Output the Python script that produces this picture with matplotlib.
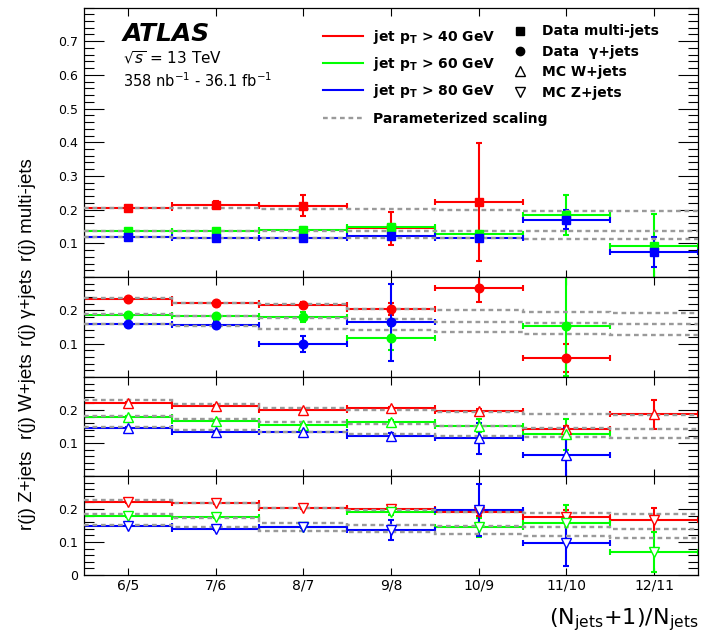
import numpy as np
import matplotlib
matplotlib.use("Agg")
import matplotlib.pyplot as plt
from matplotlib.ticker import MultipleLocator, FixedLocator
from matplotlib.lines import Line2D

plt.rcParams['font.family'] = ['DejaVu Sans']
plt.rcParams['mathtext.fontset'] = 'dejavusans'

# ---------------- data ----------------
categories = ['6/5', '7/6', '8/7', '9/8', '10/9', '11/10', '12/11']
nan = np.nan

# Panel 1: Data multi-jets
multi_40 = [0.206, 0.215, 0.212, 0.144, 0.223, nan, nan]
multi_40_err = [0.004, 0.011, 0.030, 0.050, 0.175, nan, nan]
multi_60 = [0.137, 0.137, 0.141, 0.148, 0.127, 0.184, 0.091]
multi_60_err = [0.005, 0.005, 0.006, 0.008, 0.010, 0.060, 0.095]
multi_80 = [0.118, 0.115, 0.115, 0.121, 0.115, 0.170, 0.075]
multi_80_err = [0.005, 0.006, 0.006, 0.007, 0.008, 0.028, 0.044]
multi_fit_40 = [0.206, 0.205, 0.203, 0.201, 0.198, 0.195, 0.195]
multi_fit_60 = [0.137, 0.137, 0.137, 0.137, 0.137, 0.136, 0.136]
multi_fit_80 = [0.118, 0.117, 0.117, 0.116, 0.115, 0.113, 0.113]

# Panel 2: Data gamma+jets
gam_40 = [0.235, 0.222, 0.217, 0.204, 0.266, 0.057, nan]
gam_40_err = [0.003, 0.004, 0.007, 0.018, 0.040, 0.041, nan]
gam_60 = [0.187, 0.184, 0.179, 0.117, nan, 0.153, nan]
gam_60_err = [0.003, 0.005, 0.015, 0.035, nan, 0.150, nan]
gam_80 = [0.160, 0.157, 0.098, 0.164, nan, nan, nan]
gam_80_err = [0.003, 0.010, 0.024, 0.115, nan, nan, nan]
gam_fit_40 = [0.236, 0.223, 0.219, 0.204, 0.200, 0.195, 0.193]
gam_fit_60 = [0.188, 0.183, 0.177, 0.173, 0.166, 0.162, 0.160]
gam_fit_80 = [0.160, 0.153, 0.145, 0.140, 0.135, 0.130, 0.126]

# Panel 3: MC W+jets
w_40 = [0.222, 0.212, 0.200, 0.207, 0.196, 0.142, 0.187]
w_40_err = [0.003, 0.003, 0.003, 0.003, 0.008, 0.010, 0.044]
w_60 = [0.179, 0.168, 0.155, 0.163, 0.153, 0.126, nan]
w_60_err = [0.003, 0.003, 0.003, 0.008, 0.020, 0.048, nan]
w_80 = [0.146, 0.134, 0.132, 0.120, 0.114, 0.065, nan]
w_80_err = [0.003, 0.003, 0.003, 0.010, 0.048, 0.080, nan]
w_fit_40 = [0.229, 0.217, 0.205, 0.201, 0.195, 0.188, 0.185]
w_fit_60 = [0.181, 0.172, 0.165, 0.158, 0.152, 0.144, 0.141]
w_fit_80 = [0.150, 0.139, 0.134, 0.127, 0.121, 0.119, 0.116]

# Panel 4: MC Z+jets
z_40 = [0.222, 0.217, 0.202, 0.199, 0.190, 0.177, 0.167]
z_40_err = [0.003, 0.003, 0.003, 0.008, 0.010, 0.020, 0.037]
z_60 = [0.179, 0.175, 0.146, 0.191, 0.144, 0.157, 0.069]
z_60_err = [0.003, 0.003, 0.003, 0.010, 0.030, 0.055, 0.060]
z_80 = [0.150, 0.138, 0.146, 0.136, 0.197, 0.096, nan]
z_80_err = [0.003, 0.003, 0.003, 0.030, 0.080, 0.070, nan]
z_fit_40 = [0.227, 0.217, 0.202, 0.197, 0.192, 0.187, 0.184]
z_fit_60 = [0.184, 0.172, 0.159, 0.152, 0.148, 0.146, 0.139]
z_fit_80 = [0.152, 0.144, 0.134, 0.129, 0.124, 0.118, 0.113]

series_labels = [r'jet p$_\mathbf{T}$ > 40 GeV', r'jet p$_\mathbf{T}$ > 60 GeV',
                 r'jet p$_\mathbf{T}$ > 80 GeV']
sample_labels = ['Data multi-jets', 'Data  γ+jets', 'MC W+jets', 'MC Z+jets']
ylabels = ['r(j) multi-jets', 'r(j) γ+jets', 'r(j) W+jets', 'r(j) Z+jets']

# --------------- style ----------------
colors = ['#ff0000', '#00ff00', '#0000ff']
gray = '#9a9a9a'
markers = ['s', 'o', '^', 'v']
filled = [True, True, False, False]
msizes = [6.2, 6.2, 7.5, 7.5]

panels = [
    ([multi_40, multi_60, multi_80], [multi_40_err, multi_60_err, multi_80_err],
     [multi_fit_40, multi_fit_60, multi_fit_80]),
    ([gam_40, gam_60, gam_80], [gam_40_err, gam_60_err, gam_80_err],
     [gam_fit_40, gam_fit_60, gam_fit_80]),
    ([w_40, w_60, w_80], [w_40_err, w_60_err, w_80_err],
     [w_fit_40, w_fit_60, w_fit_80]),
    ([z_40, z_60, z_80], [z_40_err, z_60_err, z_80_err],
     [z_fit_40, z_fit_60, z_fit_80]),
]

W, H = 712, 634
fig = plt.figure(figsize=(W / 100, H / 100), dpi=100)

left = 84 / W
width = (698 - 84) / W
bounds_px = [(7.5, 277), (277, 377), (377, 476), (476, 575)]
ylims = [(0, 0.8), (0, 0.3), (0, 0.3), (0, 0.3)]
yticks = [[0.1, 0.2, 0.3, 0.4, 0.5, 0.6, 0.7], [0.1, 0.2], [0.1, 0.2], [0, 0.1, 0.2]]
ylabel_centers_px = [210, 307, 396, 490]

x = np.arange(1, len(categories) + 1)
edges = np.arange(0.5, len(categories) + 1, 1.0)

axes = []
for i, (top, bot) in enumerate(bounds_px):
    ax = fig.add_axes([left, (H - bot) / H, width, (bot - top) / H])
    axes.append(ax)
    vals, errs, fits = panels[i]
    for c, v, e in zip(colors, vals, errs):
        ax.errorbar(x, v, yerr=e, xerr=0.5, fmt='none', ecolor=c, elinewidth=1.5,
                    capsize=2.2, capthick=1.5, zorder=2, clip_on=True)
    for f in fits:
        ax.stairs(f, edges, baseline=None, color=gray, lw=1.7,
                  linestyle=(0, (2.0, 1.6)), zorder=3)
    for c, v in zip(colors, vals):
        ax.plot(x, v, ls='none', marker=markers[i], ms=msizes[i],
                mfc=c if filled[i] else 'white', mec=c, mew=1.0, zorder=4)
    ax.set_xlim(0.5, len(categories) + 0.5)
    ax.set_ylim(*ylims[i])
    ax.xaxis.set_major_locator(FixedLocator(x))
    ax.yaxis.set_major_locator(FixedLocator(yticks[i]))
    ax.yaxis.set_minor_locator(MultipleLocator(0.02))
    ax.set_yticklabels(['0' if t == 0 else f'{t:.1f}' for t in yticks[i]], fontsize=9)
    ax.tick_params(axis='x', which='major', direction='in', top=True, bottom=True,
                   length=5.4, width=0.8, pad=2.5, labelsize=10)
    ax.tick_params(axis='y', which='major', direction='in', left=True, right=True,
                   length=14.5, width=0.8, pad=4)
    ax.tick_params(axis='y', which='minor', direction='in', left=True, right=True,
                   length=7.5, width=0.8)
    if i < 3:
        ax.set_xticklabels([])
    else:
        ax.set_xticklabels(categories)
    for s in ax.spines.values():
        s.set_linewidth(0.9)
    fig.text(28 / W, 1 - ylabel_centers_px[i] / H, ylabels[i], rotation=90,
             ha='center', va='center', fontsize=13.5,
             family=['Liberation Sans', 'DejaVu Sans'])

ax1 = axes[0]
ax1.text(0.0635, 0.877, 'ATLAS', transform=ax1.transAxes, fontsize=18,
         fontweight='bold', fontstyle='italic', va='baseline', ha='left')
ax1.text(0.0635, 0.792, r'$\sqrt{s}$ = 13 TeV', transform=ax1.transAxes,
         fontsize=11, va='baseline', ha='left')
ax1.text(0.0635, 0.706, r'358 nb$^{-1}$ - 36.1 fb$^{-1}$', transform=ax1.transAxes,
         fontsize=10.5, va='baseline', ha='left')

# legends
axh = 277 - 7.5
line_handles = [Line2D([], [], color=c, lw=1.5) for c in colors]
leg1 = ax1.legend(line_handles, series_labels, loc='upper left',
                  bbox_to_anchor=(0.389, (277 - 27.5) / axh), frameon=False, borderpad=0,
                  borderaxespad=0, handlelength=2.9, handletextpad=0.7,
                  labelspacing=0.66, prop={'weight': 'bold', 'size': 10})
ax1.add_artist(leg1)
gray_handle = [Line2D([], [], color=gray, lw=1.7, linestyle=(0, (2.0, 1.6)))]
leg2 = ax1.legend(gray_handle, ['Parameterized scaling'], loc='upper left',
                  bbox_to_anchor=(0.389, (277 - 112) / axh), frameon=False, borderpad=0,
                  borderaxespad=0, handlelength=2.9, handletextpad=0.7,
                  prop={'weight': 'bold', 'size': 10})
ax1.add_artist(leg2)
mk_handles = [Line2D([], [], ls='none', marker=m, ms=s, color='black',
                     mfc='black' if f else 'white', mec='black', mew=1.0)
              for m, s, f in zip(markers, [6.0, 6.0, 7.0, 7.0], filled)]
leg3 = ax1.legend(mk_handles, sample_labels, loc='upper left',
                  bbox_to_anchor=(0.698, (277 - 24.5) / axh), frameon=False, borderpad=0,
                  borderaxespad=0, handlelength=1.0, handletextpad=1.1,
                  labelspacing=0.46, prop={'weight': 'bold', 'size': 10})

fig.text(698 / W, 1 / H, r'(N$_{\rm jets}$+1)/N$_{\rm jets}$', ha='right',
         va='bottom', fontsize=16)

fig.savefig('out.png', dpi=100)
